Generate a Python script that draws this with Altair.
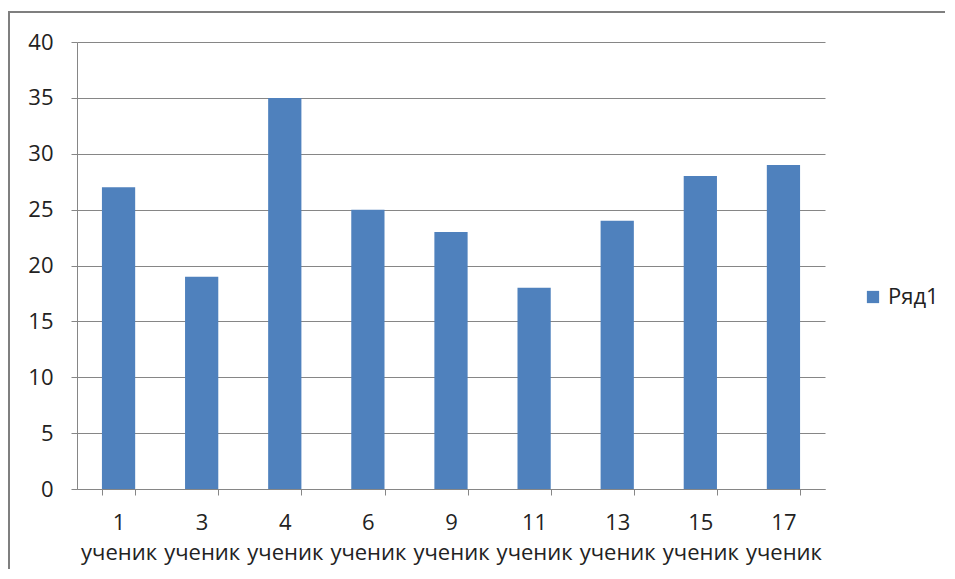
import altair as alt
import pandas as pd

categories = ["1 ученик", "3 ученик", "4 ученик", "6 ученик", "9 ученик",
              "11 ученик", "13 ученик", "15 ученик", "17 ученик"]
values = [27, 19, 35, 25, 23, 18, 24, 28, 29]
series = "Ряд1"

df = pd.DataFrame({"cat": categories, "val": values, "series": [series] * len(values)})

FONT = "Open Sans"
TXT = "#222222"

bars = alt.Chart(df).mark_bar(color="#4F81BD").encode(
    x=alt.X("cat:N", sort=None, title=None,
            scale=alt.Scale(paddingInner=0.6, paddingOuter=0.3),
            axis=alt.Axis(labelAngle=0, labelExpr="split(datum.label, ' ')",
                          labelOverlap=False, labelFontSize=22, labelFont=FONT,
                          labelColor=TXT, labelPadding=17, labelLineHeight=30,
                          labelBaseline="top",
                          tickBand="extent", tickSize=6, tickColor="#868686",
                          domainColor="#868686", grid=False)),
    y=alt.Y("val:Q", title=None,
            scale=alt.Scale(domain=[0, 40]),
            axis=alt.Axis(values=[0, 5, 10, 15, 20, 25, 30, 35, 40],
                          labelFontSize=22, labelFont=FONT, labelColor=TXT,
                          labelPadding=18, tickSize=6, tickColor="#868686",
                          domainColor="#868686", gridColor="#868686", gridWidth=1)),
    color=alt.Color("series:N", title=None,
                    scale=alt.Scale(range=["#4F81BD"]),
                    legend=alt.Legend(orient="none", legendX=785, legendY=244,
                                      labelFontSize=22, labelFont=FONT,
                                      labelColor=TXT, symbolType="square",
                                      symbolSize=150, symbolStrokeWidth=0)),
)

frame_top = alt.Chart(df).mark_rule(stroke="#7f7f7f", strokeWidth=2).encode(
    x=alt.value(-69), x2=alt.value(1000), y=alt.value(-30)
)
frame_left = alt.Chart(df).mark_rule(stroke="#7f7f7f", strokeWidth=2).encode(
    x=alt.value(-68), y=alt.value(-31), y2=alt.value(600)
)

chart = alt.layer(frame_top, frame_left, bars).properties(
    width=748, height=447,
    autosize=alt.AutoSizeParams(type="none"),
    padding={"left": 69, "top": 34, "right": 120, "bottom": 80},
).configure_view(stroke=None)

chart.save("out.html", embed_options={"renderer": "svg", "actions": False})
